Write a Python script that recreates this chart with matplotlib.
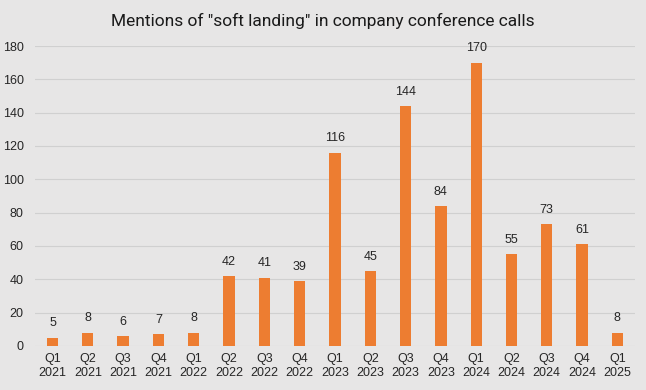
import matplotlib.pyplot as plt

quarters = ['Q1\n2021', 'Q2\n2021', 'Q3\n2021', 'Q4\n2021',
            'Q1\n2022', 'Q2\n2022', 'Q3\n2022', 'Q4\n2022',
            'Q1\n2023', 'Q2\n2023', 'Q3\n2023', 'Q4\n2023',
            'Q1\n2024', 'Q2\n2024', 'Q3\n2024', 'Q4\n2024',
            'Q1\n2025']
mentions = [5, 8, 6, 7, 8, 42, 41, 39, 116, 45, 144, 84, 170, 55, 73, 61, 8]

bg = '#e7e6e6'
orange = '#ed7d31'

plt.rcParams['font.family'] = ['Liberation Sans', 'DejaVu Sans']

fig = plt.figure(figsize=(6.46, 3.9), dpi=100, facecolor=bg)
ax = fig.add_axes([0.054, 0.113, 0.929, 0.769], facecolor=bg)

x = list(range(len(mentions)))
bars = ax.bar(x, mentions, width=0.32, color=orange, zorder=3)

for xi, v in zip(x, mentions):
    ax.text(xi, v + 5, str(v), ha='center', va='bottom', fontsize=9, color='#262626')

ax.set_xlim(-0.5, len(mentions) - 0.5)
ax.set_ylim(0, 180)
ax.set_yticks(range(0, 181, 20))
ax.set_xticks(x)
ax.set_xticklabels(quarters, fontsize=9, color='#262626', linespacing=1.25)
ax.tick_params(axis='y', labelsize=9, labelcolor='#262626', length=0, pad=8)
ax.tick_params(axis='x', length=0, pad=5)
ax.grid(axis='y', color='#d0d0d0', linewidth=0.8, zorder=0)
for s in ax.spines.values():
    s.set_visible(False)

fig.suptitle('Mentions of "soft landing" in company conference calls',
             y=0.968, fontsize=12.5, color='#1a1a1a',
             family=['Roboto', 'DejaVu Sans'])

fig.savefig('out.png', dpi=100, facecolor=bg)
